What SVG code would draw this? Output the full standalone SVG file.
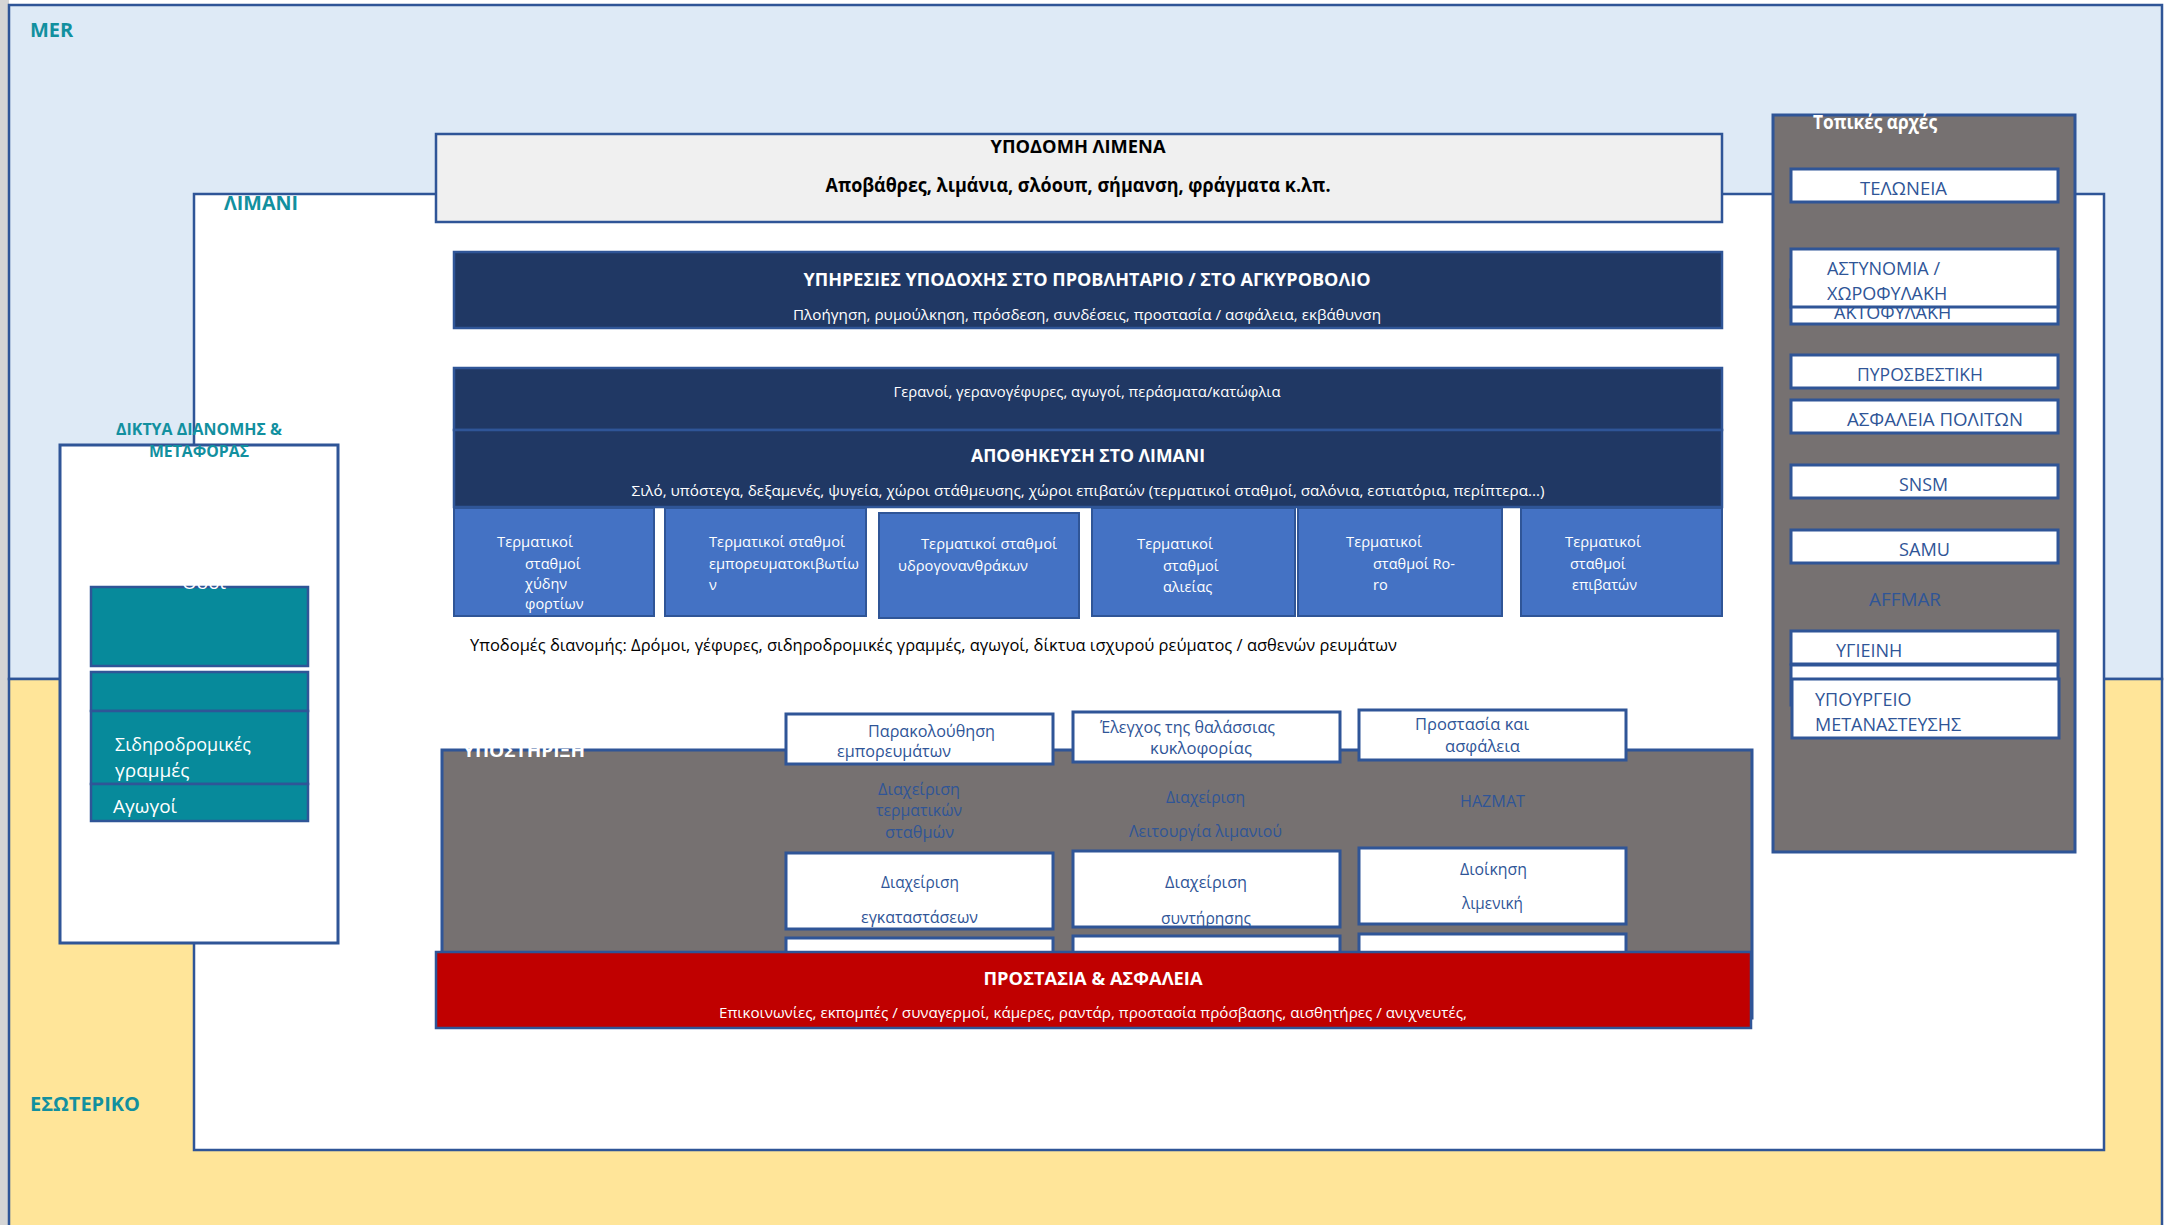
<svg xmlns="http://www.w3.org/2000/svg" width="2172" height="1225" viewBox="0 0 2172 1225">
<style>
text{font-family:"Open Sans","Noto Sans","DejaVu Sans",sans-serif}
.ln{stroke:#2F5597;stroke-width:2.5}
.wb{fill:#FFFFFF;stroke:#2F5597;stroke-width:3}
.navy{fill:#203864;stroke:#2F5597;stroke-width:2.5}
.term{fill:#4472C4;stroke:#2F5597;stroke-width:2}
.teal{fill:#078A9B;stroke:#2F5597;stroke-width:2.5}
.gray{fill:#767171;stroke:#2F5597;stroke-width:3}
.zone{font-size:20px;font-weight:bold;fill:#12909F}
.ttl{font-size:17px;font-weight:bold;fill:#FFFFFF}
.sub{font-size:15px;fill:#FFFFFF}
.tt{font-size:14.5px;fill:#FFFFFF}
.bt{font-size:16px;fill:#2F5597}
.rt{font-size:18px;fill:#2F5597}
.lt{font-size:19px;fill:#FFFFFF}
</style>

<!-- background zones -->
<g id="background">
<rect x="0" y="0" width="2172" height="1225" fill="#FFFFFF"/>
<rect x="0" y="0" width="9" height="1225" fill="#D5D5D5"/>
<rect id="mer" x="9" y="5" width="2153" height="674" fill="#DEEAF6" class="ln"/>
<rect id="esoteriko" x="9" y="679" width="2153" height="560" fill="#FFE599" class="ln"/>
<text class="zone" x="30" y="37">MER</text>
<text class="zone" x="30" y="1111" textLength="110" lengthAdjust="spacingAndGlyphs">ΕΣΩΤΕΡΙΚΟ</text>
</g>

<g id="limani">
<rect x="194" y="194" width="1910" height="956" fill="#FFFFFF" class="ln"/>
<text class="zone" x="224" y="210" textLength="74" lengthAdjust="spacingAndGlyphs">ΛΙΜΑΝΙ</text>
</g>

<g id="ypodomi">
<rect x="436" y="134" width="1286" height="88" fill="#F0F0F0" class="ln" stroke-width="3"/>
<text x="1078" y="153" text-anchor="middle" font-size="17" font-weight="bold" fill="#000" textLength="175" lengthAdjust="spacingAndGlyphs">ΥΠΟΔΟΜΗ ΛΙΜΕΝΑ</text>
<text x="1078" y="192" text-anchor="middle" font-size="19" font-weight="bold" fill="#000" textLength="505" lengthAdjust="spacingAndGlyphs">Αποβάθρες, λιμάνια, σλόουπ, σήμανση, φράγματα κ.λπ.</text>
</g>

<g id="ypiresies">
<rect x="454" y="252" width="1268" height="76" class="navy"/>
<text class="ttl" x="1087" y="286" text-anchor="middle" textLength="567" lengthAdjust="spacingAndGlyphs">ΥΠΗΡΕΣΙΕΣ ΥΠΟΔΟΧΗΣ ΣΤΟ ΠΡΟΒΛΗΤΑΡΙΟ / ΣΤΟ ΑΓΚΥΡΟΒΟΛΙΟ</text>
<text class="sub" x="1087" y="320" text-anchor="middle" textLength="588" lengthAdjust="spacingAndGlyphs">Πλοήγηση, ρυμούλκηση, πρόσδεση, συνδέσεις, προστασία / ασφάλεια, εκβάθυνση</text>
</g>

<g id="geranoi">
<rect x="454" y="368" width="1268" height="62" class="navy"/>
<text class="sub" x="1087" y="397" text-anchor="middle" textLength="387" lengthAdjust="spacingAndGlyphs">Γερανοί, γερανογέφυρες, αγωγοί, περάσματα/κατώφλια</text>
</g>

<g id="apothikeusi">
<rect x="454" y="430" width="1268" height="77" class="navy"/>
<text class="ttl" x="1088" y="462" text-anchor="middle" textLength="234" lengthAdjust="spacingAndGlyphs">ΑΠΟΘΗΚΕΥΣΗ ΣΤΟ ΛΙΜΑΝΙ</text>
<text class="sub" x="1088" y="496" text-anchor="middle" textLength="913" lengthAdjust="spacingAndGlyphs">Σιλό, υπόστεγα, δεξαμενές, ψυγεία, χώροι στάθμευσης, χώροι επιβατών (τερματικοί σταθμοί, σαλόνια, εστιατόρια, περίπτερα...)</text>
</g>

<g id="term1">
<rect x="454" y="508" width="200" height="108" class="term"/>
<text class="tt" x="497" y="547" textLength="76" lengthAdjust="spacingAndGlyphs">Τερματικοί</text>
<text class="tt" x="525" y="569">σταθμοί</text>
<text class="tt" x="525" y="589">χύδην</text>
<text class="tt" x="525" y="609">φορτίων</text>
</g>
<g id="term2">
<rect x="665" y="508" width="201" height="108" class="term"/>
<text class="tt" x="709" y="547" textLength="136" lengthAdjust="spacingAndGlyphs">Τερματικοί σταθμοί</text>
<text class="tt" x="709" y="569" textLength="150" lengthAdjust="spacingAndGlyphs">εμπορευματοκιβωτίω</text>
<text class="tt" x="709" y="590">ν</text>
</g>
<g id="term3">
<rect x="879" y="513" width="200" height="105" class="term" stroke-width="3"/>
<text class="tt" x="921" y="549" textLength="136" lengthAdjust="spacingAndGlyphs">Τερματικοί σταθμοί</text>
<text class="tt" x="898" y="571" textLength="130" lengthAdjust="spacingAndGlyphs">υδρογονανθράκων</text>
</g>
<g id="term4">
<rect x="1092" y="508" width="203" height="108" class="term"/>
<text class="tt" x="1137" y="549" textLength="76" lengthAdjust="spacingAndGlyphs">Τερματικοί</text>
<text class="tt" x="1163" y="571">σταθμοί</text>
<text class="tt" x="1163" y="592">αλιείας</text>
</g>
<g id="term5">
<rect x="1298" y="508" width="204" height="108" class="term"/>
<text class="tt" x="1346" y="547" textLength="76" lengthAdjust="spacingAndGlyphs">Τερματικοί</text>
<text class="tt" x="1373" y="569">σταθμοί Ro-</text>
<text class="tt" x="1373" y="590">ro</text>
</g>
<g id="term6">
<rect x="1521" y="508" width="201" height="108" class="term"/>
<text class="tt" x="1565" y="547" textLength="76" lengthAdjust="spacingAndGlyphs">Τερματικοί</text>
<text class="tt" x="1570" y="569">σταθμοί</text>
<text class="tt" x="1572" y="590">επιβατών</text>
</g>

<g id="dianomi">
<text x="470" y="651" font-size="16" fill="#000" textLength="927" lengthAdjust="spacingAndGlyphs">Υποδομές διανομής: Δρόμοι, γέφυρες, σιδηροδρομικές γραμμές, αγωγοί, δίκτυα ισχυρού ρεύματος / ασθενών ρευμάτων</text>
</g>

<g id="ypostirixi">
<rect x="442" y="750" width="1310" height="268" class="gray"/>
<text x="463" y="757" font-size="18" font-weight="bold" fill="#FFFFFF" textLength="122" lengthAdjust="spacingAndGlyphs">ΥΠΟΣΤΗΡΙΞΗ</text>
<text class="bt" x="878" y="795" textLength="82" lengthAdjust="spacingAndGlyphs">Διαχείριση</text>
<text class="bt" x="876" y="816" textLength="86" lengthAdjust="spacingAndGlyphs">τερματικών</text>
<text class="bt" x="885" y="838" textLength="69" lengthAdjust="spacingAndGlyphs">σταθμών</text>
<text class="bt" x="1166" y="803" textLength="79" lengthAdjust="spacingAndGlyphs">Διαχείριση</text>
<text class="bt" x="1129" y="837" textLength="153" lengthAdjust="spacingAndGlyphs">Λειτουργία λιμανιού</text>
<text class="bt" x="1460" y="807" textLength="65" lengthAdjust="spacingAndGlyphs">HAZMAT</text>
</g>

<g id="parakolouthisi">
<rect x="786" y="714" width="267" height="50" class="wb"/>
<text class="bt" x="868" y="737" textLength="127" lengthAdjust="spacingAndGlyphs">Παρακολούθηση</text>
<text class="bt" x="837" y="757" textLength="114" lengthAdjust="spacingAndGlyphs">εμπορευμάτων</text>
</g>
<g id="elegxos">
<rect x="1073" y="712" width="267" height="50" class="wb"/>
<text class="bt" x="1100" y="733" textLength="175" lengthAdjust="spacingAndGlyphs">Έλεγχος της θαλάσσιας</text>
<text class="bt" x="1150" y="754" textLength="102" lengthAdjust="spacingAndGlyphs">κυκλοφορίας</text>
</g>
<g id="prostasia-asfaleia">
<rect x="1359" y="710" width="267" height="50" class="wb"/>
<text class="bt" x="1415" y="730" textLength="114" lengthAdjust="spacingAndGlyphs">Προστασία και</text>
<text class="bt" x="1445" y="752" textLength="75" lengthAdjust="spacingAndGlyphs">ασφάλεια</text>
</g>

<g id="hidden-boxes">
<rect x="786" y="938" width="267" height="30" class="wb"/>
<rect x="1073" y="936" width="267" height="30" class="wb"/>
<rect x="1359" y="934" width="267" height="30" class="wb"/>
</g>

<g id="egkatastaseis">
<rect x="786" y="853" width="267" height="76" class="wb"/>
<text class="bt" x="881" y="888" textLength="78" lengthAdjust="spacingAndGlyphs">Διαχείριση</text>
<text class="bt" x="861" y="923" textLength="117" lengthAdjust="spacingAndGlyphs">εγκαταστάσεων</text>
</g>
<g id="syntirisi">
<rect x="1073" y="851" width="267" height="76" class="wb"/>
<text class="bt" x="1165" y="888" textLength="82" lengthAdjust="spacingAndGlyphs">Διαχείριση</text>
<text class="bt" x="1161" y="924" textLength="90" lengthAdjust="spacingAndGlyphs">συντήρησης</text>
</g>
<g id="dioikisi">
<rect x="1359" y="848" width="267" height="76" class="wb"/>
<text class="bt" x="1460" y="875" textLength="67" lengthAdjust="spacingAndGlyphs">Διοίκηση</text>
<text class="bt" x="1462" y="909" textLength="61" lengthAdjust="spacingAndGlyphs">λιμενική</text>
</g>

<g id="prostasia">
<rect x="436" y="952" width="1315" height="76" fill="#C00000" class="ln"/>
<text class="ttl" x="1093" y="985" text-anchor="middle" textLength="219" lengthAdjust="spacingAndGlyphs">ΠΡΟΣΤΑΣΙΑ &amp; ΑΣΦΑΛΕΙΑ</text>
<text class="sub" x="1093" y="1018" text-anchor="middle" textLength="748" lengthAdjust="spacingAndGlyphs">Επικοινωνίες, εκπομπές / συναγερμοί, κάμερες, ραντάρ, προστασία πρόσβασης, αισθητήρες / ανιχνευτές,</text>
</g>

<g id="diktya">
<rect x="60" y="445" width="278" height="498" class="wb"/>
<text x="199" y="435" text-anchor="middle" font-size="16" font-weight="bold" fill="#12909F" textLength="166" lengthAdjust="spacingAndGlyphs">ΔΙΚΤΥΑ ΔΙΑΝΟΜΗΣ &amp;</text>
<text x="199" y="457" text-anchor="middle" font-size="16" font-weight="bold" fill="#12909F" textLength="100" lengthAdjust="spacingAndGlyphs">ΜΕΤΑΦΟΡΑΣ</text>
</g>
<g id="odoi">
<rect x="91" y="587" width="217" height="79" class="teal"/>
<text class="lt" x="182" y="589">Οδοί</text>
</g>
<g id="teal2">
<rect x="91" y="672" width="217" height="39" class="teal"/>
</g>
<g id="sidirodromoi">
<rect x="91" y="711" width="217" height="73" class="teal"/>
<text class="lt" x="115" y="751" textLength="136" lengthAdjust="spacingAndGlyphs">Σιδηροδρομικές</text>
<text class="lt" x="115" y="777">γραμμές</text>
</g>
<g id="agogoi">
<rect x="91" y="784" width="217" height="37" class="teal"/>
<text class="lt" x="113" y="813">Αγωγοί</text>
</g>

<g id="topikes-arxes">
<rect x="1773" y="115" width="302" height="737" class="gray"/>
<text x="1813" y="129" font-size="19" font-weight="bold" fill="#FFFFFF" textLength="124" lengthAdjust="spacingAndGlyphs">Τοπικές αρχές</text>
<text class="rt" x="1869" y="606" textLength="72" lengthAdjust="spacingAndGlyphs">AFFMAR</text>
</g>
<g id="teloneia">
<rect x="1791" y="169" width="267" height="33" class="wb"/>
<text class="rt" x="1860" y="195" textLength="87" lengthAdjust="spacingAndGlyphs">ΤΕΛΩΝΕΙΑ</text>
</g>
<g id="aktofylaki">
<rect x="1791" y="280" width="267" height="44" class="wb"/>
<text class="rt" x="1834" y="319">ΑΚΤΟΦΥΛΑΚΗ</text>
</g>
<g id="astynomia">
<rect x="1791" y="249" width="267" height="58" class="wb"/>
<text class="rt" x="1827" y="275">ΑΣΤΥΝΟΜΙΑ /</text>
<text class="rt" x="1827" y="300">ΧΩΡΟΦΥΛΑΚΗ</text>
</g>
<g id="pyrosvestiki">
<rect x="1791" y="355" width="267" height="33" class="wb"/>
<text class="rt" x="1857" y="381" textLength="126" lengthAdjust="spacingAndGlyphs">ΠΥΡΟΣΒΕΣΤΙΚΗ</text>
</g>
<g id="asfaleia-politon">
<rect x="1791" y="400" width="267" height="33" class="wb"/>
<text class="rt" x="1847" y="426" textLength="176" lengthAdjust="spacingAndGlyphs">ΑΣΦΑΛΕΙΑ ΠΟΛΙΤΩΝ</text>
</g>
<g id="snsm">
<rect x="1791" y="465" width="267" height="33" class="wb"/>
<text class="rt" x="1899" y="491" textLength="49" lengthAdjust="spacingAndGlyphs">SNSM</text>
</g>
<g id="samu">
<rect x="1791" y="530" width="267" height="33" class="wb"/>
<text class="rt" x="1899" y="556" textLength="51" lengthAdjust="spacingAndGlyphs">SAMU</text>
</g>
<g id="ygieini">
<rect x="1791" y="631" width="267" height="33" class="wb"/>
<text class="rt" x="1836" y="657">ΥΓΙΕΙΝΗ</text>
</g>
<g id="blank-box">
<rect x="1791" y="665" width="267" height="40" class="wb"/>
</g>
<g id="ypourgeio">
<rect x="1792" y="679" width="267" height="59" class="wb"/>
<text class="rt" x="1815" y="706">ΥΠΟΥΡΓΕΙΟ</text>
<text class="rt" x="1815" y="731">ΜΕΤΑΝΑΣΤΕΥΣΗΣ</text>
</g>

<g id="connectors"></g>
</svg>
